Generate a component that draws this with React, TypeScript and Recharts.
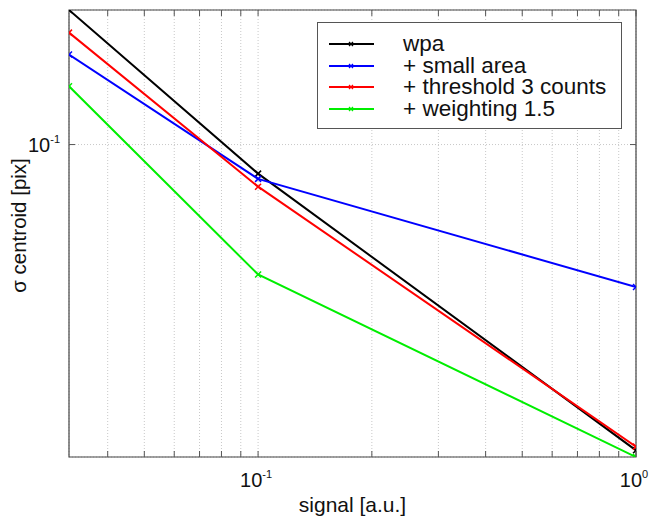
import { LineChart, Line, XAxis, YAxis, CartesianGrid, Legend, ReferenceArea } from "recharts";

const FONT = "'Liberation Sans', Arial, Helvetica, sans-serif";

// signal [a.u.] — x positions of the measurements
const SIGNAL = [0.0316, 0.1, 1];

// sigma centroid [pix] per method
const WPA = [0.2, 0.0861, 0.0207];
const SMALL_AREA = [0.159, 0.0838, 0.048];
const THRESHOLD = [0.178, 0.0805, 0.0211];
const WEIGHTING = [0.135, 0.0512, 0.02];

const X_TICKS = [0.04, 0.05, 0.06, 0.07, 0.08, 0.09, 0.1, 0.2, 0.3, 0.4, 0.5, 0.6, 0.7, 0.8, 0.9, 1];
const X_LABELS: Record<number, string> = { 0.1: "-1", 1: "0" };
const Y_TICKS = [0.1];
const Y_LABELS: Record<number, string> = { 0.1: "-1" };

const SERIES = [
  { key: "wpa", name: "wpa", color: "#000000", values: WPA },
  { key: "small", name: "+ small area", color: "#0000ff", values: SMALL_AREA },
  { key: "thr", name: "+ threshold 3 counts", color: "#ff0000", values: THRESHOLD },
  { key: "wgt", name: "+ weighting 1.5", color: "#00ee00", values: WEIGHTING },
];

const data = SIGNAL.map((s, i) => {
  const row: Record<string, number> = { signal: s };
  SERIES.forEach((se) => (row[se.key] = se.values[i]));
  return row;
});

const cross = (color: string) => (props: any) => {
  const { cx, cy, index } = props;
  if (cx == null || cy == null) return <g key={index} />;
  const r = 3;
  return (
    <g key={index} stroke={color} strokeWidth={1.5}>
      <line x1={cx - r} y1={cy - r} x2={cx + r} y2={cy + r} />
      <line x1={cx - r} y1={cy + r} x2={cx + r} y2={cy - r} />
    </g>
  );
};

function BottomTick(props: any) {
  const { x, y, payload } = props;
  const exp = X_LABELS[payload.value];
  return (
    <g>
      <line x1={x} y1={y} x2={x} y2={y - 6} stroke="#555" />
      {exp !== undefined && (
        <text x={x - 2} y={y + 30} textAnchor="middle" fontSize={20} fontFamily={FONT} fill="#111">
          10
          <tspan dy={-9} fontSize={11}>{exp}</tspan>
        </text>
      )}
    </g>
  );
}

function TopTick(props: any) {
  const { x, y } = props;
  return <line x1={x} y1={y} x2={x} y2={y + 6} stroke="#555" />;
}

function LeftTick(props: any) {
  const { x, y, payload } = props;
  const exp = Y_LABELS[payload.value];
  return (
    <g>
      <line x1={x} y1={y} x2={x + 6} y2={y} stroke="#555" />
      {exp !== undefined && (
        <text x={x - 9} y={y + 7} textAnchor="end" fontSize={20} fontFamily={FONT} fill="#111">
          10
          <tspan dy={-9} fontSize={11}>{exp}</tspan>
        </text>
      )}
    </g>
  );
}

function RightTick(props: any) {
  const { x, y } = props;
  return <line x1={x} y1={y} x2={x - 6} y2={y} stroke="#555" />;
}

function YLabel(props: any) {
  const { viewBox } = props;
  const cx = 18;
  const cy = viewBox.y + viewBox.height / 2 - 8;
  return (
    <text
      x={cx}
      y={cy}
      transform={`rotate(-90 ${cx} ${cy})`}
      textAnchor="middle"
      dominantBaseline="central"
      fontSize={20.5}
      fontFamily={FONT}
      fill="#111"
    >
      σ centroid [pix]
    </text>
  );
}

function LegendBox() {
  return (
    <div
      style={{
        boxSizing: "border-box",
        width: 305,
        height: 107,
        border: "1px solid #555",
        background: "#fff",
        paddingTop: 10,
        fontFamily: FONT,
        fontSize: 22.5,
        color: "#111",
      }}
    >
      {SERIES.map((p) => (
        <div key={p.key} style={{ display: "flex", alignItems: "center", height: 21.7 }}>
          <svg width={85} height={20} style={{ flex: "none" }}>
            <line x1={11} y1={10} x2={56} y2={10} stroke={p.color} strokeWidth={2} />
            <line x1={31} y1={8} x2={35} y2={12} stroke={p.color} strokeWidth={1.2} />
            <line x1={31} y1={12} x2={35} y2={8} stroke={p.color} strokeWidth={1.2} />
          </svg>
          <span style={{ display: "block", height: 21.7, lineHeight: "21.7px", whiteSpace: "nowrap" }}>{p.name}</span>
        </div>
      ))}
    </div>
  );
}

export default function App() {
  return (
    <div style={{ position: "absolute", left: 0, top: 0, background: "#fff" }}>
      <LineChart width={652} height={516} data={data} margin={{ top: 0, right: 0, left: 0, bottom: 0 }}>
        <CartesianGrid stroke="#c8c8c8" strokeDasharray="1 2" />
        <XAxis
          dataKey="signal"
          type="number"
          scale="log"
          domain={[0.0316, 1]}
          ticks={X_TICKS}
          allowDataOverflow
          height={59}
          axisLine={false}
          tickLine={false}
          tickSize={0}
          tickMargin={0}
          tick={<BottomTick />}
          interval={0}
          label={{ value: "signal [a.u.]", position: "insideBottom", offset: 4, fontSize: 21, fontFamily: FONT, fill: "#111" }}
        />
        <XAxis
          xAxisId="top"
          orientation="top"
          dataKey="signal"
          type="number"
          scale="log"
          domain={[0.0316, 1]}
          ticks={X_TICKS}
          allowDataOverflow
          height={10}
          axisLine={false}
          tickLine={false}
          tickSize={0}
          tickMargin={0}
          tick={<TopTick />}
          interval={0}
        />
        <YAxis
          type="number"
          scale="log"
          domain={[0.02, 0.2]}
          ticks={Y_TICKS}
          allowDataOverflow
          width={69}
          axisLine={false}
          tickLine={false}
          tickSize={0}
          tickMargin={0}
          tick={<LeftTick />}
          interval={0}
          label={<YLabel />}
        />
        <YAxis
          yAxisId="right"
          orientation="right"
          type="number"
          scale="log"
          domain={[0.02, 0.2]}
          ticks={Y_TICKS}
          allowDataOverflow
          width={16}
          axisLine={false}
          tickLine={false}
          tickSize={0}
          tickMargin={0}
          tick={<RightTick />}
          interval={0}
        />
        <ReferenceArea x1={0.0316} x2={1} y1={0.02} y2={0.2} fill="none" stroke="#444" strokeWidth={1.2} ifOverflow="visible" />
        {SERIES.map((s) => (
          <Line
            key={s.key}
            dataKey={s.key}
            name={s.name}
            stroke={s.color}
            strokeWidth={2}
            dot={cross(s.color)}
            activeDot={false}
            isAnimationActive={false}
          />
        ))}
        <Legend
          layout="vertical"
          align="center"
          verticalAlign="middle"
          content={<LegendBox />}
          wrapperStyle={{ left: 317, top: 22, width: 305 }}
        />
      </LineChart>
    </div>
  );
}
